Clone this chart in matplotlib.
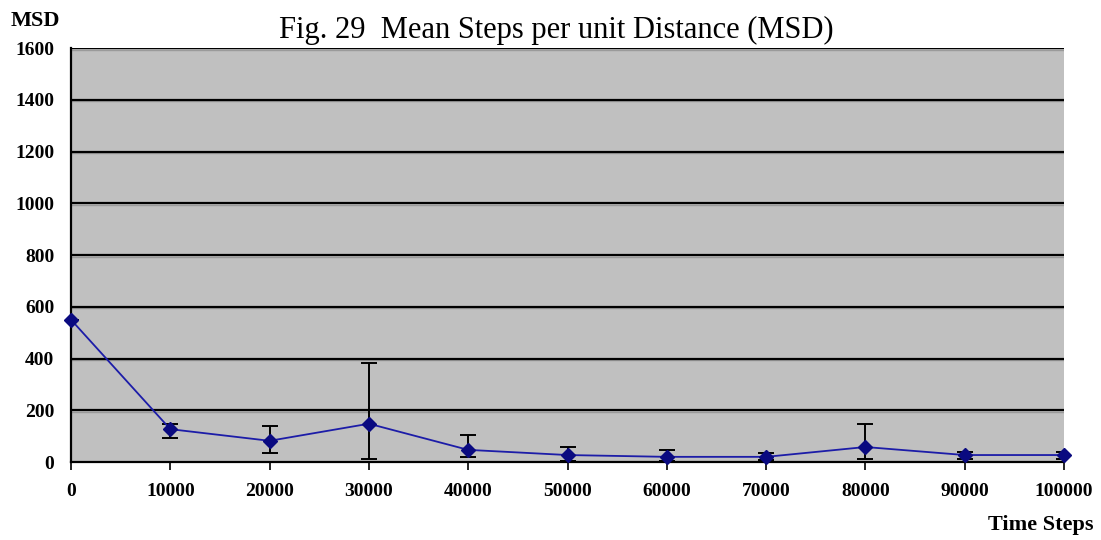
import matplotlib.pyplot as plt
import numpy as np

# Mean steps per unit distance over time
time_steps = [0, 10000, 20000, 30000, 40000, 50000, 60000, 70000, 80000, 90000, 100000]
msd = [550, 127, 82, 148, 47, 27, 20, 20, 58, 27, 27]
err_low = [0, 34, 46, 136, 28, 22, 15, 12, 46, 14, 14]
err_high = [0, 20, 58, 235, 57, 32, 26, 14, 90, 12, 12]
y_ticks = [0, 200, 400, 600, 800, 1000, 1200, 1400, 1600]
x_ticks = time_steps

serif = ['Liberation Serif', 'DejaVu Serif']

fig = plt.figure(figsize=(11.01, 5.40), dpi=100)
ax = fig.add_axes([0.0645, 0.1444, 0.9019, 0.7667])
ax.set_facecolor('#c0c0c0')

# horizontal grid with a soft shadow line under each one
for y in y_ticks[1:]:
    ax.axhline(y - 6, color='#9a9a9a', lw=1.0, zorder=1)
    ax.axhline(y, color='black', lw=1.6, zorder=2)

ax.errorbar(time_steps, msd, yerr=[err_low, err_high], fmt='none',
            ecolor='black', elinewidth=1.4, capsize=6, capthick=1.4, zorder=3)
ax.plot(time_steps, msd, color='#1c1ca8', lw=1.3, marker='D', ms=7,
        mfc='#0a0a80', mec='#0a0a80', zorder=4, clip_on=False)

ax.set_xlim(0, 100000)
ax.set_ylim(0, 1600)
ax.set_xticks(x_ticks)
ax.set_yticks(y_ticks)
ax.set_xticklabels([str(v) for v in x_ticks], fontfamily=serif,
                   fontweight='bold', fontsize=14)
ax.set_yticklabels([str(v) for v in y_ticks], fontfamily=serif,
                   fontweight='bold', fontsize=14)
ax.tick_params(axis='x', direction='out', length=6, width=1.2, pad=9)
ax.tick_params(axis='y', length=0, pad=12)

for side in ['top', 'right']:
    ax.spines[side].set_visible(False)
ax.spines['left'].set_linewidth(1.6)
ax.spines['bottom'].set_linewidth(1.6)

fig.text(0.505, 0.943, 'Fig. 29  Mean Steps per unit Distance (MSD)',
         ha='center', va='center', fontfamily=serif, fontsize=22)
fig.text(0.010, 0.962, 'MSD', ha='left', va='center', fontfamily=serif,
         fontweight='bold', fontsize=16)
fig.text(0.993, 0.028, 'Time Steps', ha='right', va='center', fontfamily=serif,
         fontweight='bold', fontsize=16)

fig.savefig('out.png', dpi=100)
